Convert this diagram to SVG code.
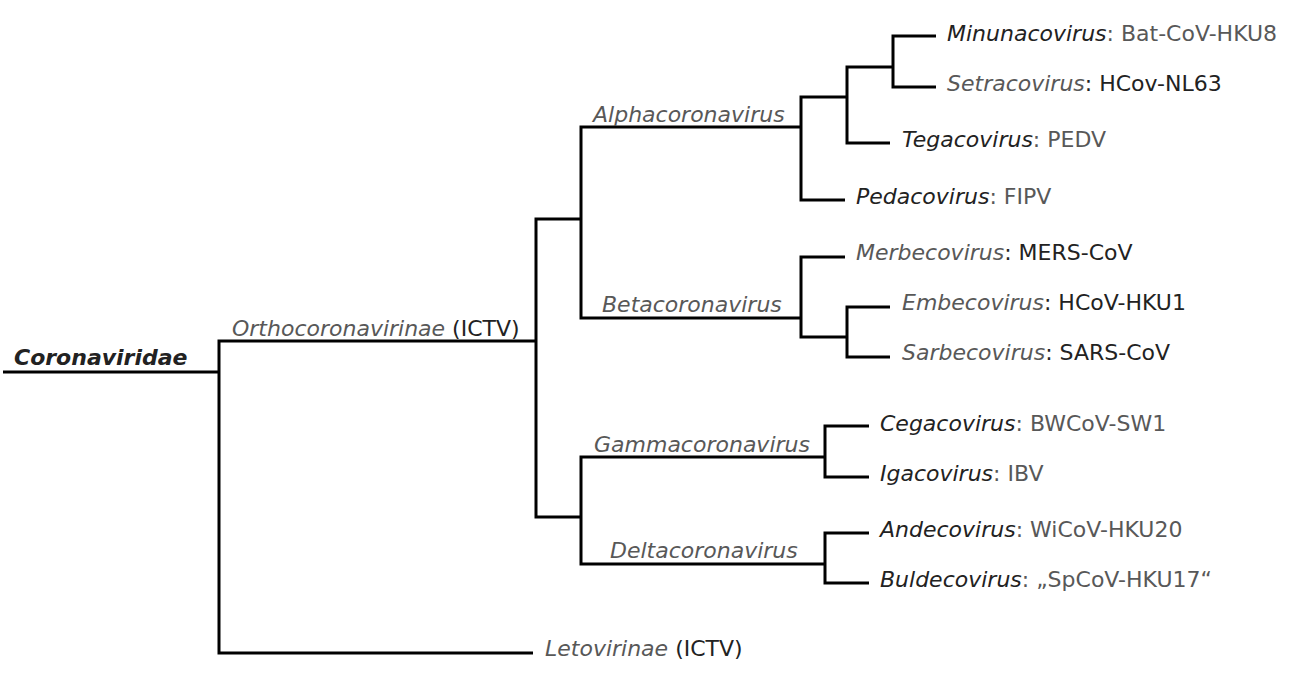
<svg xmlns="http://www.w3.org/2000/svg" width="1300" height="675" viewBox="0 0 1300 675">
<style>
text{font-family:"DejaVu Sans","Noto Sans",sans-serif;font-size:22px}
.i{font-style:italic}
.d{fill:#222}
.g{fill:#585858}
.root{font-weight:bold;font-style:italic;fill:#222}
.edge{fill:none;stroke:#000;stroke-width:3;stroke-linejoin:miter;stroke-linecap:butt}
</style>
<rect width="1300" height="675" fill="#fff"/>
<g id="connectors">
<path class="edge" d="M3,372 H219"/>
<path class="edge" d="M536,341 H219 V653 H533"/>
<path class="edge" d="M581,219 H536 V517 H581"/>
<path class="edge" d="M801,127 H581 V318 H801"/>
<path class="edge" d="M847,97 H801 V200 H845"/>
<path class="edge" d="M893,67 H847 V143 H890"/>
<path class="edge" d="M936,36 H893 V87 H936"/>
<path class="edge" d="M845,257 H801 V337 H847"/>
<path class="edge" d="M890,307 H847 V357 H890"/>
<path class="edge" d="M825,457 H581 V564 H825"/>
<path class="edge" d="M869,426 H825 V477 H869"/>
<path class="edge" d="M869,533 H825 V583 H869"/>
</g>
<g id="coronaviridae"><text class="root" x="14" y="365">Coronaviridae</text></g>
<g id="orthocoronavirinae"><text x="232" y="336"><tspan class="i g">Orthocoronavirinae</tspan><tspan class="d"> (ICTV)</tspan></text></g>
<g id="letovirinae"><text x="545" y="656"><tspan class="i g">Letovirinae</tspan><tspan class="d"> (ICTV)</tspan></text></g>
<g id="alphacoronavirus"><text class="i g" x="593" y="122">Alphacoronavirus</text></g>
<g id="betacoronavirus"><text class="i g" x="602" y="312">Betacoronavirus</text></g>
<g id="gammacoronavirus"><text class="i g" x="594" y="452">Gammacoronavirus</text></g>
<g id="deltacoronavirus"><text class="i g" x="610" y="558">Deltacoronavirus</text></g>
<g id="minunacovirus"><text x="947" y="41"><tspan class="i d">Minunacovirus</tspan><tspan class="g">: Bat-CoV-HKU8</tspan></text></g>
<g id="setracovirus"><text x="947" y="91"><tspan class="i g">Setracovirus</tspan><tspan class="d">: HCov-NL63</tspan></text></g>
<g id="tegacovirus"><text x="902" y="147"><tspan class="i d">Tegacovirus</tspan><tspan class="g">: PEDV</tspan></text></g>
<g id="pedacovirus"><text x="856" y="204"><tspan class="i d">Pedacovirus</tspan><tspan class="g">: FIPV</tspan></text></g>
<g id="merbecovirus"><text x="856" y="260"><tspan class="i g">Merbecovirus</tspan><tspan class="d">: MERS-CoV</tspan></text></g>
<g id="embecovirus"><text x="902" y="310"><tspan class="i g">Embecovirus</tspan><tspan class="d">: HCoV-HKU1</tspan></text></g>
<g id="sarbecovirus"><text x="902" y="360"><tspan class="i g">Sarbecovirus</tspan><tspan class="d">: SARS-CoV</tspan></text></g>
<g id="cegacovirus"><text x="880" y="431"><tspan class="i d">Cegacovirus</tspan><tspan class="g">: BWCoV-SW1</tspan></text></g>
<g id="igacovirus"><text x="880" y="481"><tspan class="i d">Igacovirus</tspan><tspan class="g">: IBV</tspan></text></g>
<g id="andecovirus"><text x="880" y="537"><tspan class="i d">Andecovirus</tspan><tspan class="g">: WiCoV-HKU20</tspan></text></g>
<g id="buldecovirus"><text x="880" y="587"><tspan class="i d">Buldecovirus</tspan><tspan class="g">: „SpCoV-HKU17“</tspan></text></g>
</svg>
